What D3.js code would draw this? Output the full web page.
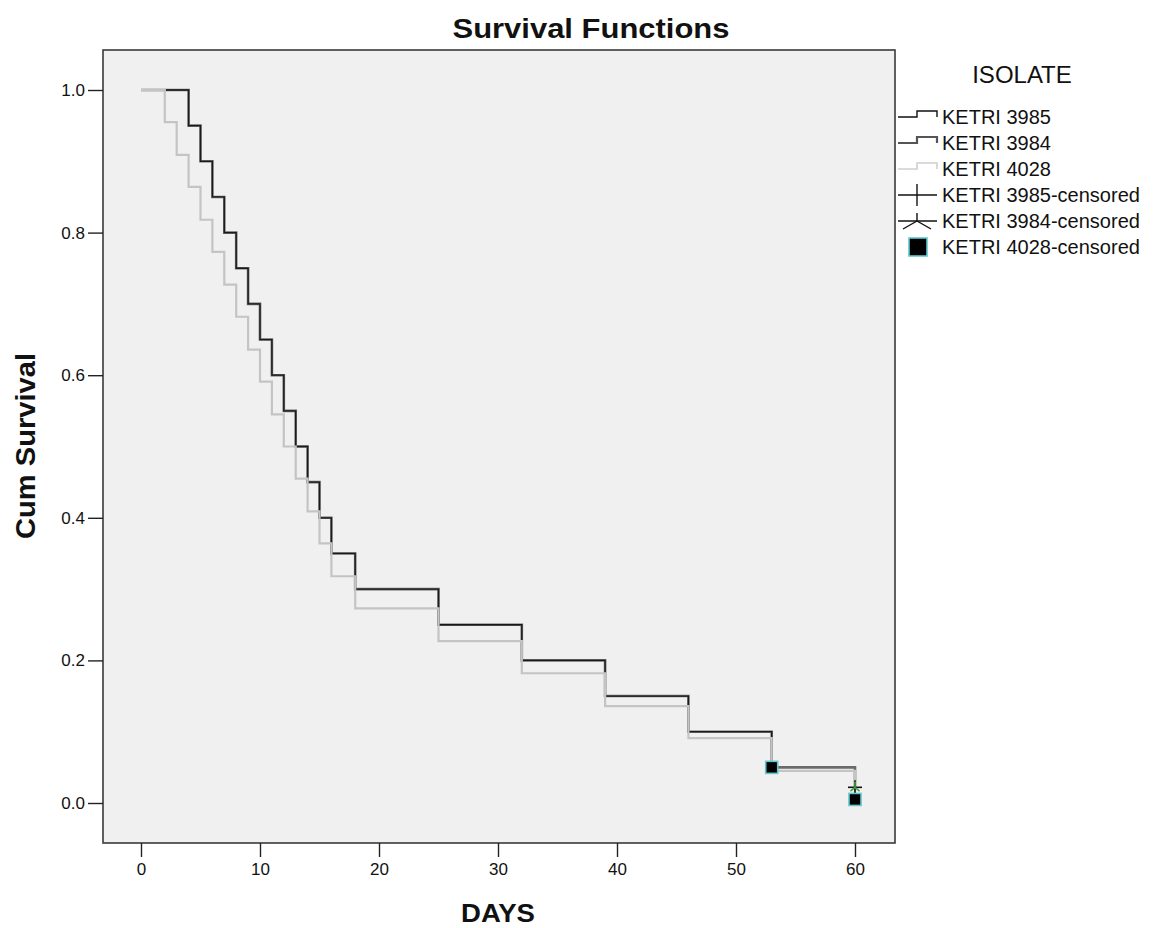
<!DOCTYPE html>
<html>
<head>
<meta charset="utf-8">
<script src="https://cdn.jsdelivr.net/npm/d3@7"></script>
<style>
  html, body { margin: 0; padding: 0; background: #ffffff; }
  svg { display: block; }
  text { font-family: "Liberation Sans", Arial, sans-serif; fill: #111; }
</style>
</head>
<body>
<svg id="chart" width="1153" height="928"></svg>
<script>
// ---- data ----
const xTicks = [0, 10, 20, 30, 40, 50, 60];
const yTicks = [0.0, 0.2, 0.4, 0.6, 0.8, 1.0];

const seriesNames = ["KETRI 3985", "KETRI 3984", "KETRI 4028"];

const times3985 = [0, 4, 5, 6, 7, 8, 9, 10, 11, 12, 13, 14, 15, 16, 18, 25, 32, 39, 46, 53];
const surv3985  = [1.00, 0.95, 0.90, 0.85, 0.80, 0.75, 0.70, 0.65, 0.60, 0.55, 0.50, 0.45, 0.40, 0.35, 0.30, 0.25, 0.20, 0.15, 0.10, 0.05];

const times3984 = [0, 4, 5, 6, 7, 8, 9, 10, 11, 12, 13, 14, 15, 16, 18, 25, 32, 39, 46, 53, 60];
const surv3984  = [1.00, 0.95, 0.90, 0.85, 0.80, 0.75, 0.70, 0.65, 0.60, 0.55, 0.50, 0.45, 0.40, 0.35, 0.30, 0.25, 0.20, 0.15, 0.10, 0.05, 0.022];

const times4028 = [0, 2, 3, 4, 5, 6, 7, 8, 9, 10, 11, 12, 13, 14, 15, 16, 18, 25, 32, 39, 46, 53, 60];
const surv4028  = [1.000, 0.955, 0.909, 0.864, 0.818, 0.773, 0.727, 0.682, 0.636, 0.591, 0.545, 0.500, 0.455, 0.409, 0.364, 0.318, 0.273, 0.227, 0.182, 0.136, 0.091, 0.045, 0.005];

const censTimes3985 = [60];
const censSurv3985  = [0.022];
const censTimes3984 = [60];
const censSurv3984  = [0.022];
const censTimes4028 = [53, 60];
const censSurv4028  = [0.05, 0.005];

// ---- layout ----
const svg = d3.select("#chart");
const frame = { left: 103, right: 895, top: 50, bottom: 843 };

const x = d3.scaleLinear().domain([0, 60]).range([141, 855]);
const y = d3.scaleLinear().domain([0, 1]).range([803, 90]);

// plot background
svg.append("rect")
  .attr("x", frame.left).attr("y", frame.top)
  .attr("width", frame.right - frame.left).attr("height", frame.bottom - frame.top)
  .attr("fill", "#f0f0f0").attr("stroke", "#3a3a3a").attr("stroke-width", 1.6);

// axes
const yAxis = d3.axisLeft(y).tickValues(yTicks).tickFormat(d3.format(".1f")).tickSize(15).tickPadding(3);
const gy = svg.append("g").attr("transform", `translate(${frame.left},0)`).call(yAxis);
const xAxis = d3.axisBottom(x).tickValues(xTicks).tickFormat(d3.format("d")).tickSize(14).tickPadding(6);
const gx = svg.append("g").attr("transform", `translate(0,${frame.bottom})`).call(xAxis);
[gx, gy].forEach(g => {
  g.select(".domain").remove();
  g.selectAll(".tick line").attr("stroke", "#222").attr("stroke-width", 1.4);
  g.selectAll(".tick text").attr("font-size", 17).attr("fill", "#222")
    .attr("font-family", "'Liberation Sans', Arial, sans-serif");
});

// survival step lines
const line = d3.line().x(d => x(d[0])).y(d => y(d[1])).curve(d3.curveStepAfter);
const pairs = (t, s) => t.map((v, i) => [v, s[i]]);

const styles = {
  "KETRI 3985": { color: "#1a1a1a", width: 1.3 },
  "KETRI 3984": { color: "#6a6a6a", width: 2.6 },
  "KETRI 4028": { color: "#c4c4c4", width: 2.2 }
};

svg.append("path").datum(pairs(times3984, surv3984)).attr("d", line)
  .attr("fill", "none").attr("stroke", styles["KETRI 3984"].color).attr("stroke-width", styles["KETRI 3984"].width);
svg.append("path").datum(pairs(times3985, surv3985)).attr("d", line)
  .attr("fill", "none").attr("stroke", styles["KETRI 3985"].color).attr("stroke-width", styles["KETRI 3985"].width);
svg.append("path").datum(pairs(times4028, surv4028)).attr("d", line)
  .attr("fill", "none").attr("stroke", styles["KETRI 4028"].color).attr("stroke-width", styles["KETRI 4028"].width);

// censored markers
function plus(g, cx, cy, r, color) {
  g.append("line").attr("x1", cx - r).attr("x2", cx + r).attr("y1", cy).attr("y2", cy).attr("stroke", color).attr("stroke-width", 1.6);
  g.append("line").attr("x1", cx).attr("x2", cx).attr("y1", cy - r).attr("y2", cy + r).attr("stroke", color).attr("stroke-width", 1.6);
}
function star(g, cx, cy, r, color) {
  g.append("line").attr("x1", cx).attr("x2", cx).attr("y1", cy - r * 0.8).attr("y2", cy).attr("stroke", color).attr("stroke-width", 1.5);
  g.append("line").attr("x1", cx).attr("x2", cx - r * 0.65).attr("y1", cy).attr("y2", cy + r * 0.55).attr("stroke", color).attr("stroke-width", 1.5);
  g.append("line").attr("x1", cx).attr("x2", cx + r * 0.65).attr("y1", cy).attr("y2", cy + r * 0.55).attr("stroke", color).attr("stroke-width", 1.5);
}
function square(g, cx, cy, s) {
  g.append("rect").attr("x", cx - s / 2).attr("y", cy - s / 2).attr("width", s).attr("height", s)
    .attr("fill", "#000").attr("stroke", "#5fc8cc").attr("stroke-width", 1.6);
}
const gm = svg.append("g");
censTimes3985.forEach((t, i) => plus(gm, x(t), y(censSurv3985[i]), 7, "#111"));
censTimes3984.forEach((t, i) => star(gm, x(t), y(censSurv3984[i]), 7, "#3aa63a"));
censTimes4028.forEach((t, i) => square(gm, x(t), y(censSurv4028[i]), 12));

// title & axis labels
svg.append("text").attr("x", 591).attr("y", 38).attr("text-anchor", "middle")
  .attr("font-size", 27).attr("font-weight", "bold").attr("textLength", 277).attr("lengthAdjust", "spacingAndGlyphs")
  .text("Survival Functions");
svg.append("text").attr("transform", "translate(35,446) rotate(-90)").attr("text-anchor", "middle")
  .attr("font-size", 27).attr("font-weight", "bold").attr("textLength", 186).attr("lengthAdjust", "spacingAndGlyphs")
  .text("Cum Survival");
svg.append("text").attr("x", 498).attr("y", 922).attr("text-anchor", "middle")
  .attr("font-size", 25).attr("font-weight", "bold").attr("textLength", 74).attr("lengthAdjust", "spacingAndGlyphs")
  .text("DAYS");

// legend
const lg = svg.append("g");
lg.append("text").attr("x", 1022).attr("y", 83).attr("text-anchor", "middle")
  .attr("font-size", 24).attr("fill", "#222").text("ISOLATE");

const legendItems = [
  { label: "KETRI 3985", kind: "line", key: "KETRI 3985" },
  { label: "KETRI 3984", kind: "line", key: "KETRI 3984" },
  { label: "KETRI 4028", kind: "line", key: "KETRI 4028" },
  { label: "KETRI 3985-censored", kind: "plus" },
  { label: "KETRI 3984-censored", kind: "star" },
  { label: "KETRI 4028-censored", kind: "square" }
];
const legY = d3.scaleLinear().domain([0, 5]).range([117, 247]);
legendItems.forEach((it, i) => {
  const cy = legY(i);
  if (it.kind === "line") {
    const w = it.key === "KETRI 3985" ? 1.4 : (it.key === "KETRI 3984" ? 2.2 : 1.6);
    const c = it.key === "KETRI 3985" ? "#111" : (it.key === "KETRI 3984" ? "#555" : "#cfcfcf");
    lg.append("path")
      .attr("d", `M898,${cy} H917 V${cy - 6} H937 V${cy}`)
      .attr("fill", "none").attr("stroke", c).attr("stroke-width", w);
  } else if (it.kind === "plus") {
    lg.append("line").attr("x1", 898).attr("x2", 937).attr("y1", cy).attr("y2", cy).attr("stroke", "#111").attr("stroke-width", 1.4);
    lg.append("line").attr("x1", 917).attr("x2", 917).attr("y1", cy - 11).attr("y2", cy + 11).attr("stroke", "#111").attr("stroke-width", 1.4);
  } else if (it.kind === "star") {
    lg.append("line").attr("x1", 898).attr("x2", 937).attr("y1", cy).attr("y2", cy).attr("stroke", "#111").attr("stroke-width", 1.4);
    lg.append("line").attr("x1", 917).attr("x2", 917).attr("y1", cy - 8).attr("y2", cy).attr("stroke", "#111").attr("stroke-width", 1.4);
    lg.append("line").attr("x1", 917).attr("x2", 903).attr("y1", cy).attr("y2", cy + 8).attr("stroke", "#111").attr("stroke-width", 1.4);
    lg.append("line").attr("x1", 917).attr("x2", 931).attr("y1", cy).attr("y2", cy + 8).attr("stroke", "#111").attr("stroke-width", 1.4);
  } else {
    lg.append("rect").attr("x", 909).attr("y", cy - 9).attr("width", 18).attr("height", 18)
      .attr("fill", "#000").attr("stroke", "#5fc8cc").attr("stroke-width", 1.6);
  }
  lg.append("text").attr("x", 942).attr("y", cy + 7).attr("font-size", 20).attr("fill", "#111").text(it.label);
});
</script>
</body>
</html>
